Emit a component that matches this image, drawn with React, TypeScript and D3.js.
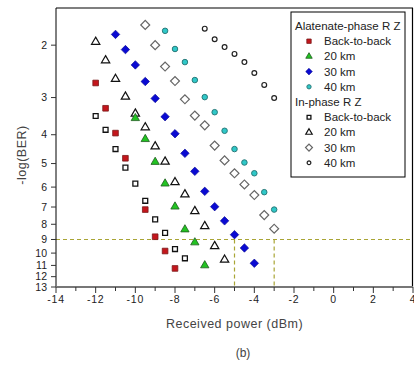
import React, { useEffect, useRef } from "react";
import * as d3 from "d3";

// x: received power (dBm), y: -log(BER)
const altB2bX = [-12, -11.5, -11, -10.5, -9.5, -9, -8.5, -8];
const altB2bY = [2.68, 3.26, 3.95, 4.8, 7.14, 8.81, 9.84, 11.26];
const alt20X = [-10, -9.5, -9, -8.5, -8, -7.5, -7, -6.5];
const alt20Y = [3.52, 4.14, 4.94, 5.84, 6.98, 8.33, 9.21, 11.0];
const alt30X = [-11, -10.5, -10, -9.5, -9, -8.5, -8, -7.5, -7, -6.5, -6, -5.5, -5, -4.5, -4];
const alt30Y = [1.84, 2.07, 2.33, 2.65, 3.02, 3.48, 3.97, 4.62, 5.31, 6.2, 6.98, 7.79, 8.67, 9.61, 10.82];
const alt40X = [-8.5, -8, -7.5, -7, -6.5, -6, -5.5, -5, -4.5, -4, -3.5, -3];
const alt40Y = [1.79, 2.06, 2.28, 2.62, 2.99, 3.36, 3.88, 4.47, 4.96, 5.39, 6.24, 7.14];

const inB2bX = [-12, -11.5, -11, -10.5, -10, -9.5, -9, -8.5, -8, -7.5];
const inB2bY = [3.46, 3.85, 4.47, 5.16, 5.84, 6.67, 7.7, 8.55, 9.69, 10.41];
const in20X = [-12, -11.5, -11, -10.5, -10, -9.5, -9, -8.5, -8, -7.5, -7, -6.5, -6, -5.5];
const in20Y = [1.95, 2.25, 2.6, 2.98, 3.4, 3.78, 4.38, 4.93, 5.78, 6.35, 7.23, 8.12, 9.48, 10.53];
const in30X = [-9.5, -9, -8.5, -8, -7.5, -7, -6.5, -6, -5.5, -5, -4.5, -4, -3.5, -3];
const in30Y = [1.71, 2.0, 2.36, 2.64, 3.04, 3.45, 3.72, 4.35, 4.88, 5.39, 5.88, 6.38, 7.45, 8.28];
const in40X = [-6.5, -6, -5.5, -5, -4.5, -4, -3.5, -3];
const in40Y = [1.76, 1.91, 2.03, 2.14, 2.28, 2.48, 2.72, 3.01];

const xTicks = [-14, -12, -10, -8, -6, -4, -2, 0, 2, 4];
const yTicks = [2, 3, 4, 5, 6, 7, 8, 9, 10, 11, 12, 13];
const berLimit = 9;
const sensitivities = [-5, -3];

const altLabel = "Alatenate-phase R Z";
const inLabel = "In-phase R Z";
const seriesLabels = ["Back-to-back", "20 km", "30 km", "40 km"];

const font = "'Liberation Sans', Arial, sans-serif";

type Mark = { shape: string; fill: string; stroke: string; size: number; sw: number };

const altMarks: Mark[] = [
  { shape: "square", fill: "#c4161c", stroke: "#7a1a1a", size: 32, sw: 0.8 },
  { shape: "triangle", fill: "#22c322", stroke: "#1d5a1d", size: 30, sw: 0.8 },
  { shape: "diamond", fill: "#0a0ad2", stroke: "#0a0a90", size: 36, sw: 0.6 },
  { shape: "circle", fill: "#2fc8c8", stroke: "#2a7a7a", size: 24, sw: 1 },
];
const inMarks: Mark[] = [
  { shape: "square", fill: "#fff", stroke: "#111", size: 24, sw: 1.3 },
  { shape: "triangle", fill: "#fff", stroke: "#111", size: 30, sw: 1.2 },
  { shape: "diamond", fill: "#fff", stroke: "#666", size: 40, sw: 1.2 },
  { shape: "circle", fill: "#fff", stroke: "#222", size: 18, sw: 1.2 },
];

const symbolPath = (m: Mark) => {
  const t =
    m.shape === "square" || m.shape === "diamond"
      ? d3.symbolSquare
      : m.shape === "triangle"
      ? d3.symbolTriangle
      : d3.symbolCircle;
  return d3.symbol().type(t).size(m.size)();
};

const BerChart = () => {
  const svgRef = useRef<SVGSVGElement>(null);

  useEffect(() => {
    const width = 414;
    const height = 365;
    const margin = { left: 56, right: 1, top: 8, bottom: 78 };

    const x = d3.scaleLinear().domain([-14, 4]).range([margin.left, width - margin.right]);
    const y = d3.scaleLog().domain([1.5, 13]).range([margin.top, height - margin.bottom]);

    const svg = d3.select(svgRef.current);
    svg.selectAll("*").remove();

    const x0 = x(-14);
    const x1 = x(4);
    const yTop = y(1.5);
    const yBot = y(13);

    // frame
    svg.append("line").attr("x1", x0).attr("x2", x1).attr("y1", yTop).attr("y2", yTop)
      .attr("stroke", "#000").attr("stroke-width", 1.2);
    svg.append("line").attr("x1", x1 - 0.5).attr("x2", x1 - 0.5).attr("y1", yTop).attr("y2", yBot)
      .attr("stroke", "#000").attr("stroke-width", 1.2);

    // dashed reference lines
    const dash = "#a9a535";
    svg.append("line").attr("x1", x0).attr("x2", x1).attr("y1", y(berLimit)).attr("y2", y(berLimit))
      .attr("stroke", dash).attr("stroke-width", 1.2).attr("stroke-dasharray", "4,3");
    sensitivities.forEach((s) => {
      svg.append("line").attr("x1", x(s)).attr("x2", x(s)).attr("y1", y(berLimit)).attr("y2", yBot)
        .attr("stroke", dash).attr("stroke-width", 1.2).attr("stroke-dasharray", "4,3");
    });

    // y axis
    svg.append("line").attr("x1", x0).attr("x2", x0).attr("y1", yTop).attr("y2", yBot)
      .attr("stroke", "#000").attr("stroke-width", 1);
    yTicks.forEach((t) => {
      svg.append("line").attr("x1", x0 - 5).attr("x2", x0).attr("y1", y(t)).attr("y2", y(t))
        .attr("stroke", "#333").attr("stroke-width", 1);
      svg.append("text").attr("x", x0 - 9).attr("y", y(t)).attr("dy", "0.35em")
        .attr("text-anchor", "end").attr("font-family", font).attr("font-size", 10.5)
        .attr("fill", "#222").text(t);
    });

    // x axis
    svg.append("line").attr("x1", x0).attr("x2", x1).attr("y1", yBot).attr("y2", yBot)
      .attr("stroke", "#777").attr("stroke-width", 2);
    d3.range(-14, 5, 1).forEach((t) => {
      const major = t % 2 === 0;
      svg.append("line").attr("x1", x(t)).attr("x2", x(t)).attr("y1", yBot)
        .attr("y2", yBot + (major ? 6 : 4)).attr("stroke", "#333").attr("stroke-width", 1);
    });
    xTicks.forEach((t) => {
      svg.append("text").attr("x", x(t)).attr("y", yBot + 16)
        .attr("text-anchor", "middle").attr("font-family", font).attr("font-size", 10.5)
        .attr("fill", "#222").attr("letter-spacing", 0.8).text(t);
    });

    svg.append("text").attr("x", (x0 + x1) / 2).attr("y", yBot + 41)
      .attr("text-anchor", "middle").attr("font-family", font).attr("font-size", 12.5)
      .attr("fill", "#444").attr("letter-spacing", 0.5).text("Received power (dBm)");
    svg.append("text").attr("transform", `translate(26,155) rotate(-90)`)
      .attr("text-anchor", "middle").attr("font-family", font).attr("font-size", 12.5)
      .attr("fill", "#444").attr("letter-spacing", 0.5).text("-log(BER)");
    svg.append("text").attr("x", 243).attr("y", 357)
      .attr("text-anchor", "middle").attr("font-family", font).attr("font-size", 12)
      .attr("fill", "#444").text("(b)");

    // series
    const series = [
      { xs: alt40X, ys: alt40Y, m: altMarks[3] },
      { xs: in40X, ys: in40Y, m: inMarks[3] },
      { xs: in30X, ys: in30Y, m: inMarks[2] },
      { xs: alt30X, ys: alt30Y, m: altMarks[2] },
      { xs: in20X, ys: in20Y, m: inMarks[1] },
      { xs: alt20X, ys: alt20Y, m: altMarks[1] },
      { xs: inB2bX, ys: inB2bY, m: inMarks[0] },
      { xs: altB2bX, ys: altB2bY, m: altMarks[0] },
    ];
    series.forEach(({ xs, ys, m }) => {
      const pts = xs.map((v, i) => [v, ys[i]]);
      svg.append("g").selectAll("path").data(pts).enter().append("path")
        .attr("d", symbolPath(m))
        .attr("transform", (d) =>
          `translate(${x(d[0])},${y(d[1])})${m.shape === "diamond" ? " rotate(45)" : ""}`)
        .attr("fill", m.fill).attr("stroke", m.stroke).attr("stroke-width", m.sw);
    });

    // legend
    const lg = svg.append("g");
    lg.append("rect").attr("x", 291).attr("y", 12).attr("width", 114).attr("height", 165)
      .attr("fill", "#fff").attr("stroke", "#000").attr("stroke-width", 1);
    const rowH = 15.2;
    const rows: { text: string; mark?: Mark }[] = [
      { text: altLabel },
      ...seriesLabels.map((s, i) => ({ text: s, mark: altMarks[i] })),
      { text: inLabel },
      ...seriesLabels.map((s, i) => ({ text: s, mark: inMarks[i] })),
    ];
    rows.forEach((r, i) => {
      const ry = 26 + i * rowH;
      if (r.mark) {
        const small = { ...r.mark, size: r.mark.size * 0.6 };
        lg.append("path").attr("d", symbolPath(small))
          .attr("transform", `translate(309,${ry})${r.mark.shape === "diamond" ? " rotate(45)" : ""}`)
          .attr("fill", r.mark.fill).attr("stroke", r.mark.stroke).attr("stroke-width", r.mark.sw);
        lg.append("text").attr("x", 324).attr("y", ry).attr("dy", "0.35em")
          .attr("font-family", font).attr("font-size", 11.5).attr("fill", "#222").text(r.text);
      } else {
        lg.append("text").attr("x", 295).attr("y", ry).attr("dy", "0.35em")
          .attr("font-family", font).attr("font-size", 11.5).attr("fill", "#222").text(r.text);
      }
    });
  }, []);

  return <svg ref={svgRef} width={414} height={365} style={{ display: "block" }}></svg>;
};

export default function App() {
  return (
    <div style={{ position: "fixed", left: 0, top: 0, background: "#fff" }}>
      <BerChart />
    </div>
  );
}
